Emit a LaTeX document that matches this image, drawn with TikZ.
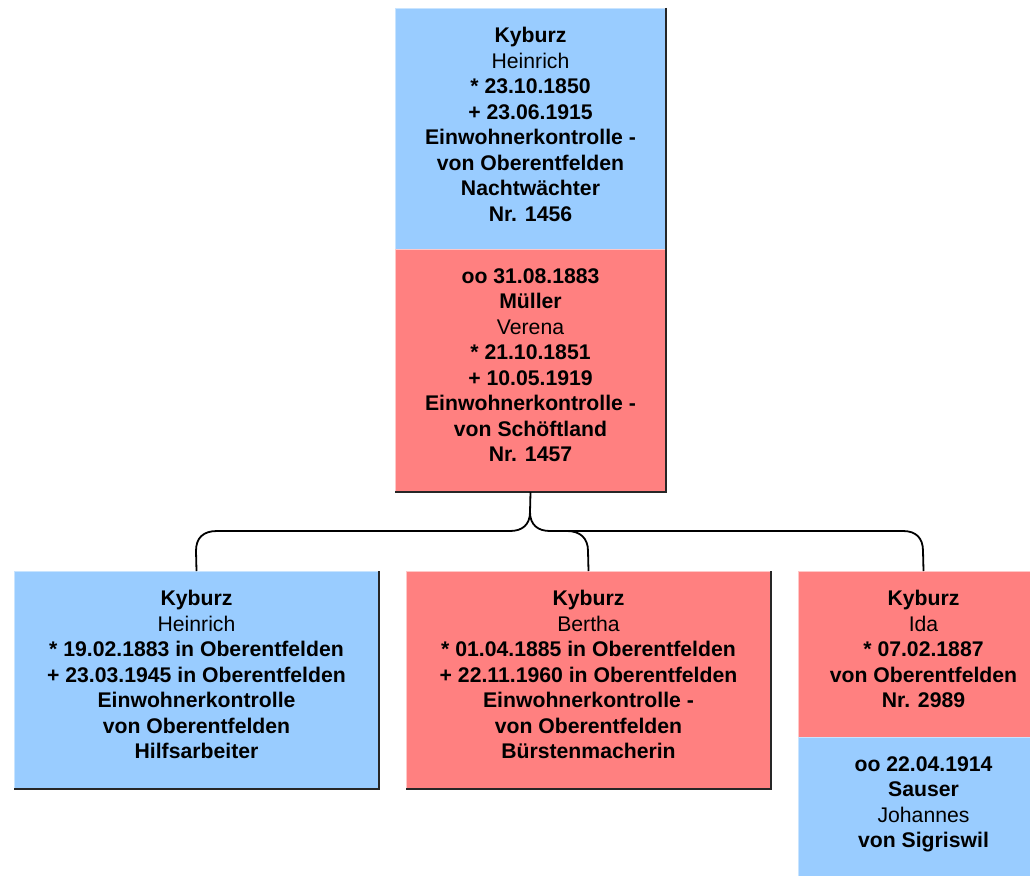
\documentclass[tikz,border=0pt]{standalone}
\usepackage{fontspec}
\setmainfont{Liberation Sans}
\definecolor{mblue}{RGB}{153,204,255}
\definecolor{fred}{RGB}{255,128,128}
\definecolor{mbluel}{RGB}{200,228,255}
\definecolor{fredl}{RGB}{255,200,200}
\tikzset{
  pbox/.style={rectangle, inner sep=0pt, anchor=north west, line width=1pt},
  malebox/.style={pbox, fill=mblue, draw=mbluel},
  femalebox/.style={pbox, fill=fred, draw=fredl},
  txt/.style={anchor=north, inner sep=0pt, align=center, text=black,
    font=\fontsize{21.2}{25.5}\selectfont\bfseries},
  shade/.style={draw=black!85, line width=1.6pt},
  link/.style={draw=black, line width=1.8pt},
}
\newcommand{\gn}[1]{{\mdseries #1}}
\begin{document}
\begin{tikzpicture}[x=1pt,y=1pt]
\clip (0,0) rectangle (1030,-875);
\fill[white] (0,0) rectangle (1030,-875);
% top couple
\node[malebox, minimum width=270pt, minimum height=241pt] (fb) at (395,-8) {};
\node[femalebox, minimum width=270pt, minimum height=242pt] (fr) at (395,-249) {};
\draw[shade] (fb.north east) -- (fr.south east) -- (fr.south west);
\node[txt, below=19pt] (fbt) at (fb.north) {Kyburz\\\gn{Heinrich}\\* 23.10.1850\\+ 23.06.1915\\Einwohnerkontrolle -\\von Oberentfelden\\Nachtwächter\\Nr. 1456};
\node[txt, below=19pt] (frt) at (fr.north) {oo 31.08.1883\\Müller\\\gn{Verena}\\* 21.10.1851\\+ 10.05.1919\\Einwohnerkontrolle -\\von Schöftland\\Nr. 1457};
% children
\node[malebox, minimum width=364pt, minimum height=217pt] (c1) at (14,-571) {};
\draw[shade] (c1.north east) -- (c1.south east) -- (c1.south west);
\node[txt, below=19pt] (c1t) at (c1.north) {Kyburz\\\gn{Heinrich}\\* 19.02.1883 in Oberentfelden\\+ 23.03.1945 in Oberentfelden\\Einwohnerkontrolle\\von Oberentfelden\\Hilfsarbeiter};
\node[femalebox, minimum width=364pt, minimum height=217pt] (c2) at (406,-571) {};
\draw[shade] (c2.north east) -- (c2.south east) -- (c2.south west);
\node[txt, below=19pt] (c2t) at (c2.north) {Kyburz\\\gn{Bertha}\\* 01.04.1885 in Oberentfelden\\+ 22.11.1960 in Oberentfelden\\Einwohnerkontrolle -\\von Oberentfelden\\Bürstenmacherin};
\node[femalebox, minimum width=250pt, minimum height=166pt] (c3) at (798,-571) {};
\node[malebox, minimum width=250pt, minimum height=150pt] (c3s) at (798,-737) {};
\node[txt, below=19pt] (c3t) at (c3.north) {Kyburz\\\gn{Ida}\\* 07.02.1887\\von Oberentfelden\\Nr. 2989};
\node[txt, below=19pt] (c3st) at (c3s.north) {oo 22.04.1914\\Sauser\\\gn{Johannes}\\von Sigriswil};
% connectors
\coordinate (fork) at (530,-512);
\draw[link] (fr.south) -- (fork);
\draw[link] (fork) .. controls (530,-525) and (522,-531) .. (510,-531)
  -- (217,-531) .. controls (203,-531) and (196,-538) .. (196,-551) -- (c1.north);
\draw[link] (fork) .. controls (530,-525) and (538,-531) .. (550,-531)
  -- (567,-531) .. controls (580,-531) and (588,-538) .. (588,-551) -- (c2.north);
\draw[link] (567,-531) -- (903,-531) .. controls (916,-531) and (923,-538) .. (923,-551) -- (c3.north);
\end{tikzpicture}
\end{document}
